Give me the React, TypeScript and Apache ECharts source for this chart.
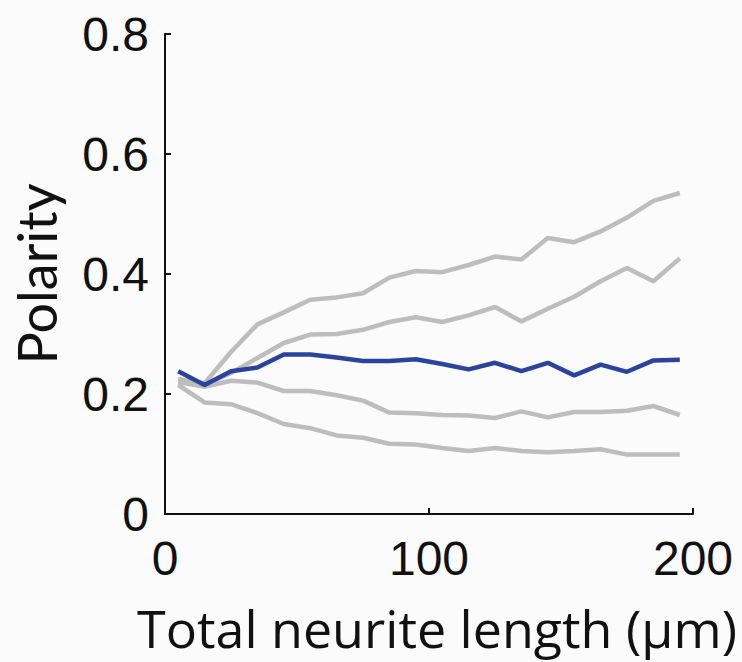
import React, { useEffect, useRef } from "react";
import * as echarts from "echarts";

const lengths = [5, 15, 25, 35, 45, 55, 65, 75, 85, 95, 105, 115, 125, 135, 145, 155, 165, 175, 185, 195];
const meanPolarity = [0.238, 0.215, 0.238, 0.244, 0.266, 0.266, 0.261, 0.255, 0.255, 0.258, 0.25, 0.241, 0.252, 0.238, 0.252, 0.231, 0.249, 0.237, 0.256, 0.257];
const grayTop = [0.224, 0.218, 0.27, 0.316, 0.336, 0.357, 0.361, 0.368, 0.394, 0.405, 0.403, 0.415, 0.429, 0.424, 0.46, 0.453, 0.471, 0.494, 0.522, 0.535];
const grayUpper = [0.225, 0.215, 0.235, 0.26, 0.285, 0.299, 0.3, 0.307, 0.32, 0.328, 0.32, 0.331, 0.345, 0.321, 0.342, 0.362, 0.388, 0.41, 0.388, 0.426];
const grayLower = [0.22, 0.212, 0.222, 0.219, 0.205, 0.205, 0.198, 0.189, 0.169, 0.168, 0.165, 0.164, 0.16, 0.171, 0.161, 0.17, 0.17, 0.172, 0.18, 0.165];
const grayBottom = [0.215, 0.186, 0.183, 0.168, 0.15, 0.143, 0.131, 0.127, 0.117, 0.116, 0.11, 0.105, 0.11, 0.105, 0.103, 0.105, 0.108, 0.099, 0.099, 0.099];

const grayLines = [grayTop, grayUpper, grayLower, grayBottom];

export default function App() {
  const ref = useRef<HTMLDivElement>(null);
  useEffect(() => {
    if (!ref.current) return;
    const chart = echarts.init(ref.current, undefined, { renderer: "svg" });
    const pair = (ys: number[]) => lengths.map((x, i) => [x, ys[i]]);
    const tickFont = { fontFamily: "Liberation Sans, Arial, sans-serif", fontSize: 48, color: "#111" };
    chart.setOption({
      animation: false,
      backgroundColor: "#fbfbfb",
      grid: { left: 165, right: 49, top: 34, bottom: 148, containLabel: false },
      xAxis: {
        type: "value",
        min: 0,
        max: 200,
        interval: 100,
        name: "Total neurite length (µm)",
        nameLocation: "middle",
        nameGap: 87,
        nameTextStyle: { fontFamily: "Open Sans, Lato, sans-serif", fontSize: 52, color: "#111", padding: [0, 0, 0, 16] },
        axisLine: { show: true, lineStyle: { color: "#111", width: 2 } },
        axisTick: { show: true, inside: true, length: 6, lineStyle: { color: "#111", width: 2 } },
        axisLabel: { ...tickFont, margin: 20 },
        splitLine: { show: false },
      },
      yAxis: {
        type: "value",
        min: 0,
        max: 0.8,
        interval: 0.2,
        name: "Polarity",
        nameLocation: "middle",
        nameRotate: 90,
        nameGap: 102,
        nameTextStyle: { fontFamily: "Lato, Open Sans, sans-serif", fontSize: 54, color: "#111" },
        axisLine: { show: true, lineStyle: { color: "#111", width: 2 } },
        axisTick: { show: true, inside: true, length: 6, lineStyle: { color: "#111", width: 2 } },
        axisLabel: { ...tickFont, margin: 16, formatter: (v: number) => (v === 0 ? "0" : v.toFixed(1)) },
        splitLine: { show: false },
      },
      series: [
        ...grayLines.map((ys) => ({
          type: "line",
          data: pair(ys),
          showSymbol: false,
          lineStyle: { color: "#bdbdbd", width: 4.5 },
          z: 2,
        })),
        {
          type: "line",
          data: pair(meanPolarity),
          showSymbol: false,
          lineStyle: { color: "#2a449e", width: 4.5 },
          z: 3,
        },
      ],
    });
    return () => chart.dispose();
  }, []);
  return <div ref={ref} style={{ position: "fixed", left: 0, top: 0, width: 742, height: 662 }} />;
}
